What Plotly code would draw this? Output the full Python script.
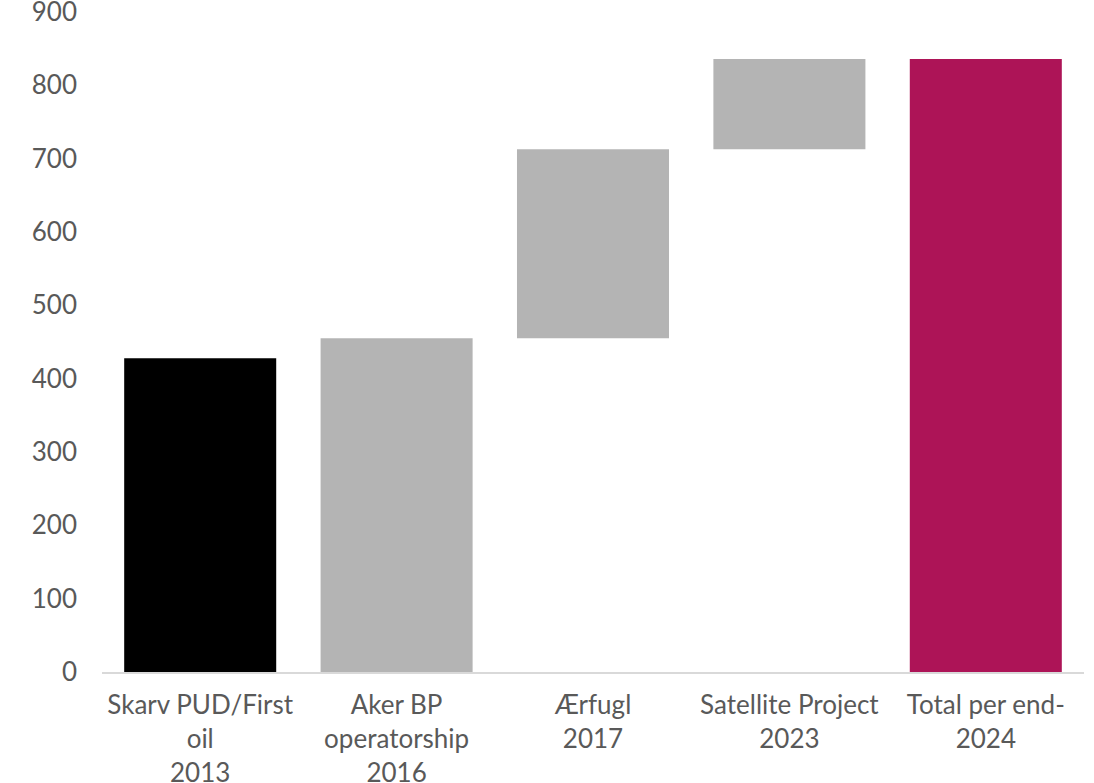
import plotly.graph_objects as go

# Data
categories = [
    "Skarv PUD/First<br>oil<br>2013",
    "Aker BP<br>operatorship<br>2016",
    "Ærfugl<br>2017",
    "Satellite Project<br>2023",
    "Total per end-<br>2024",
]
bar_base = [0, 0, 455, 713, 0]
bar_value = [428, 455, 258, 123, 836]
y_ticks = [0, 100, 200, 300, 400, 500, 600, 700, 800, 900]

# Styles
bar_colors = ["#000000", "#B4B4B4", "#B4B4B4", "#B4B4B4", "#AD1457"]
text_color = "#595959"
font_family = "Lato, 'Open Sans', sans-serif"
font_size = 26

fig = go.Figure(
    go.Bar(
        x=categories,
        y=bar_value,
        base=bar_base,
        marker=dict(color=bar_colors, line=dict(width=0)),
        hoverinfo="skip",
    )
)

fig.update_layout(
    width=1094,
    height=783,
    margin=dict(l=102, r=10, t=12, b=111),
    paper_bgcolor="white",
    plot_bgcolor="white",
    bargap=0.226,
    showlegend=False,
    font=dict(family=font_family, size=font_size, color=text_color),
)

fig.update_xaxes(
    type="category",
    automargin=False,
    showgrid=False,
    showline=True,
    linecolor="#D9D9D9",
    linewidth=1.5,
    ticks="",
    tickfont=dict(family=font_family, size=font_size, color=text_color),
    ticklabelstandoff=9,
)

fig.update_yaxes(
    range=[0, 900.01],
    automargin=False,
    tickvals=y_ticks,
    showgrid=False,
    zeroline=False,
    showline=False,
    ticks="",
    tickfont=dict(family=font_family, size=font_size, color=text_color),
    ticklabelstandoff=24,
    ticklabeloverflow="allow",
)

fig.write_html(
    "out.html",
    config={"displayModeBar": False},
    post_script="document.body.style.margin='0';",
)
